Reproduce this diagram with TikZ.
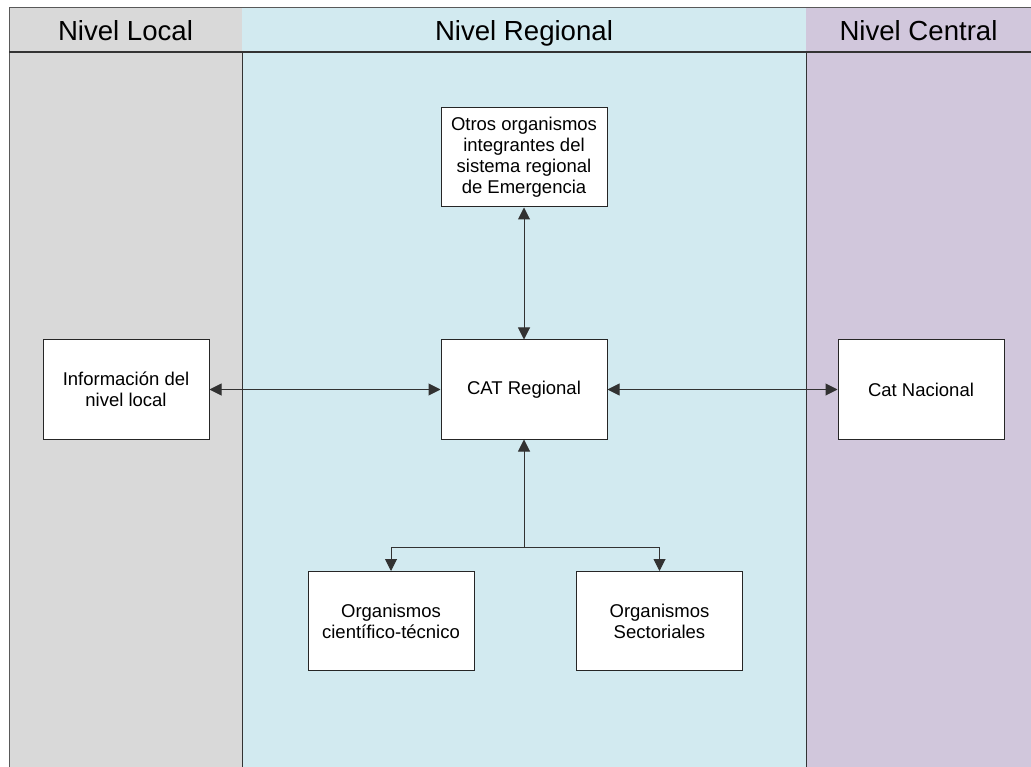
\documentclass[tikz,border=0pt]{standalone}
\usepackage{fontspec}
\setmainfont{Liberation Sans}
\usetikzlibrary{arrows.meta}
\definecolor{lanegrey}{RGB}{217,217,217}
\definecolor{laneblue}{RGB}{210,234,240}
\definecolor{lanepurple}{RGB}{209,199,220}
\definecolor{edgegrey}{RGB}{50,50,50}
\tikzset{
  box/.style={draw=black!85,fill=white,line width=1pt,minimum width=166pt,minimum height=99pt,
    align=center,font=\fontsize{18.5}{21}\selectfont,inner sep=0pt},
  lanehead/.style={font=\fontsize{27.6}{33}\selectfont,inner sep=0pt,anchor=base},
  link/.style={draw=edgegrey,line width=1pt,
    {Triangle[length=12pt,width=12pt]}-{Triangle[length=12pt,width=12pt]}},
  onelink/.style={draw=edgegrey,line width=1pt,-{Triangle[length=12pt,width=12pt]}},
  laneline/.style={draw=black!80,line width=1pt}
}
\begin{document}
\begin{tikzpicture}[x=1pt,y=-1pt]
\useasboundingbox (0,0) rectangle (1031,767);
% lanes
\fill[lanegrey] (9,8) rectangle (242,767);
\fill[laneblue] (242,8) rectangle (806,767);
\fill[lanepurple] (806,8) rectangle (1031,767);
\draw[draw=black!65,line width=1pt] (1031,8) -- (9,8) -- (9,767);
\draw[laneline,line width=1.3pt] (9,52) -- (1031,52);
\draw[laneline] (242,52) -- (242,767);
\draw[laneline] (806,52) -- (806,767);
% headers
\node[lanehead] (hlocal) at (125.5,40.5) {Nivel Local};
\node[lanehead] (hreg) at (524,40.5) {Nivel Regional};
\node[lanehead] (hcen) at (918.5,40.5) {Nivel Central};
% boxes
\node[box] (otros) at (524,157.5) {Otros organismos\\integrantes del\\sistema regional\\de Emergencia};
\node[box] (cat) at (524,389.5) {CAT Regional};
\node[box] (info) at (126,389.5) {Información del\\nivel local};
\node[box] (nac) at (921,389.5) {Cat Nacional};
\node[box] (cient) at (391,621) {Organismos\\científico-técnico};
\node[box] (sect) at (659.5,621) {Organismos\\Sectoriales};
% connectors
\draw[link] (otros) -- (cat);
\draw[link] (info) -- (cat);
\draw[link] (cat) -- (nac);
\coordinate (j) at (524,547);
\draw[onelink] (j) -- (cat.south);
\draw[onelink] (j) -| (cient.north);
\draw[onelink] (j) -| (sect.north);
\end{tikzpicture}
\end{document}
